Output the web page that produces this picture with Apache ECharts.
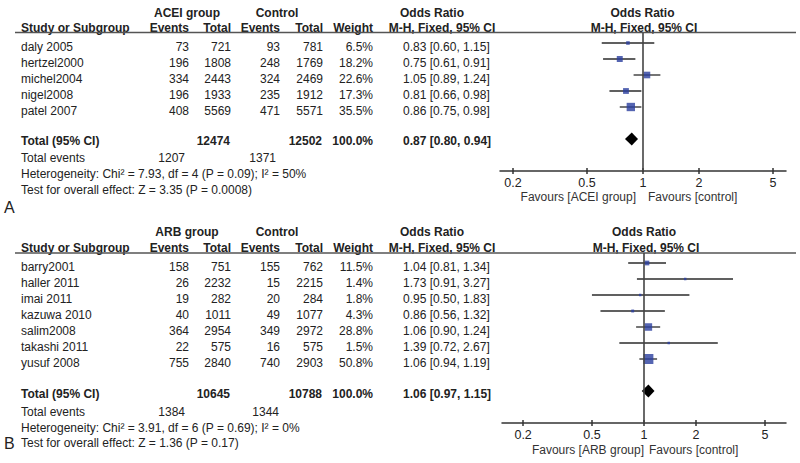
<!DOCTYPE html>
<html><head><meta charset="utf-8">
<script src="https://cdn.jsdelivr.net/npm/echarts@6/dist/echarts.min.js"></script>
<style>html,body{margin:0;padding:0;background:#fff}#c{width:800px;height:463px}</style>
</head><body><div id="c"></div>
<script>
// ---------- Panel A: ACEI group vs control ----------
const A_STUDIES    = ['daly 2005', 'hertzel2000', 'michel2004', 'nigel2008', 'patel 2007'];
const A_EXP_EVENTS = [73, 196, 334, 196, 408];
const A_EXP_TOTAL  = [721, 1808, 2443, 1933, 5569];
const A_CTL_EVENTS = [93, 248, 324, 235, 471];
const A_CTL_TOTAL  = [781, 1769, 2469, 1912, 5571];
const A_WEIGHT     = [6.5, 18.2, 22.6, 17.3, 35.5];
const A_OR         = [0.83, 0.75, 1.05, 0.81, 0.86];
const A_LO         = [0.60, 0.61, 0.89, 0.66, 0.75];
const A_HI         = [1.15, 0.91, 1.24, 0.98, 0.98];
const A_POOLED     = [0.87, 0.80, 0.94];          // OR, lower, upper
const A_TOTALS     = [12474, 12502];
const A_TOT_EVENTS = [1207, 1371];
const A_HET        = 'Heterogeneity: Chi\u00B2 = 7.93, df = 4 (P = 0.09); I\u00B2 = 50%';
const A_TEST       = 'Test for overall effect: Z = 3.35 (P = 0.0008)';

// ---------- Panel B: ARB group vs control ----------
const B_STUDIES    = ['barry2001', 'haller 2011', 'imai 2011', 'kazuwa 2010', 'salim2008', 'takashi 2011', 'yusuf 2008'];
const B_EXP_EVENTS = [158, 26, 19, 40, 364, 22, 755];
const B_EXP_TOTAL  = [751, 2232, 282, 1011, 2954, 575, 2840];
const B_CTL_EVENTS = [155, 15, 20, 49, 349, 16, 740];
const B_CTL_TOTAL  = [762, 2215, 284, 1077, 2972, 575, 2903];
const B_WEIGHT     = [11.5, 1.4, 1.8, 4.3, 28.8, 1.5, 50.8];
const B_OR         = [1.04, 1.73, 0.95, 0.86, 1.06, 1.39, 1.06];
const B_LO         = [0.81, 0.91, 0.50, 0.56, 0.90, 0.72, 0.94];
const B_HI         = [1.34, 3.27, 1.83, 1.32, 1.24, 2.67, 1.19];
const B_POOLED     = [1.06, 0.97, 1.15];
const B_TOTALS     = [10645, 10788];
const B_TOT_EVENTS = [1384, 1344];
const B_HET        = 'Heterogeneity: Chi\u00B2 = 3.91, df = 6 (P = 0.69); I\u00B2 = 0%';
const B_TEST       = 'Test for overall effect: Z = 1.36 (P = 0.17)';

const TICKS = [0.2, 0.5, 1, 2, 5];

// ---------- layout / style ----------
const FONT = '"Liberation Sans", Arial, Helvetica, sans-serif';
const FS = 12;
const TXT = '#222';
const COL = { study: 21, ee: 189, et: 231, ce: 280, ct: 323, w: 373, orL: 403 };

function txt(x, y, text, align, bold, size, color) {
  align = align || 'left';
  return {
    type: 'text', x: x, y: y, silent: true,
    style: {
      text: String(text), fill: color || TXT,
      font: (bold ? 'bold ' : '') + (size || FS) + 'px ' + FONT,
      align: align, verticalAlign: 'middle', textAlign: align, textVerticalAlign: 'middle'
    }
  };
}
const fmtCI = (o, l, h) => o.toFixed(2) + ' [' + l.toFixed(2) + ', ' + h.toFixed(2) + ']';

const PANELS = [
  { label: 'A', group: 'ACEI group', S: A_STUDIES, EE: A_EXP_EVENTS, ET: A_EXP_TOTAL, CE: A_CTL_EVENTS, CT: A_CTL_TOTAL,
    W: A_WEIGHT, OR: A_OR, LO: A_LO, HI: A_HI, P: A_POOLED, TOT: A_TOTALS, TE: A_TOT_EVENTS, HET: A_HET, TEST: A_TEST,
    L: { hdr1: 13, hdr2: 28, line: 32.5, row0: 47, rowStep: 16, total: 141, events: 158, het: 174, test: 190, lab: 207, labX: 4,
         grid: { left: 500, width: 286, top: 33, height: 138 }, xMin: 0.1703, xMax: 5.872, yMin: -0.625, yMax: 8,
         orHdr: 432, mhHdr: 442, rHdr: 642.5, rMh: 644, fav: 197, favL: 636, favR: 648, teE: 185, teC: 276 } },
  { label: 'B', group: 'ARB group', S: B_STUDIES, EE: B_EXP_EVENTS, ET: B_EXP_TOTAL, CE: B_CTL_EVENTS, CT: B_CTL_TOTAL,
    W: B_WEIGHT, OR: B_OR, LO: B_LO, HI: B_HI, P: B_POOLED, TOT: B_TOTALS, TE: B_TOT_EVENTS, HET: B_HET, TEST: B_TEST,
    L: { hdr1: 232, hdr2: 248, line: 253, row0: 267, rowStep: 16, total: 394, events: 412, het: 428, test: 443, lab: 443, labX: 4,
         grid: { left: 502, width: 284, top: 253, height: 170 }, xMin: 0.1510, xMax: 6.62, yMin: -0.625, yMax: 10,
         orHdr: 432, mhHdr: 442, rHdr: 644, rMh: 646, fav: 450, favL: 644, favR: 649, teE: 185, teC: 279 } }
];

const grids = [], xAxes = [], yAxes = [], series = [], graphics = [];
const TICK_LOG = TICKS.map(v => Math.log10(v));

PANELS.forEach((p, gi) => {
  const L = p.L;
  grids.push(Object.assign({ containLabel: false }, L.grid));
  const axBase = {
    gridIndex: gi, type: 'value', position: 'bottom',
    min: Math.log10(L.xMin), max: Math.log10(L.xMax), splitLine: { show: false }
  };
  xAxes.push(Object.assign({}, axBase, {
    axisLine: { show: true, onZero: false, lineStyle: { color: '#333', width: 1.5 } },
    axisTick: { show: true, customValues: TICK_LOG, length: 3, lineStyle: { color: '#333', width: 1.5 } },
    axisLabel: { show: true, customValues: TICK_LOG, margin: 5, color: TXT, fontSize: 12.5, fontFamily: FONT,
                 formatter: v => String(+Math.pow(10, v).toPrecision(2)) }
  }));
  xAxes.push(Object.assign({}, axBase, {
    axisLine: { show: false, onZero: false },
    axisTick: { show: true, inside: true, customValues: TICK_LOG, length: 3, lineStyle: { color: '#333', width: 1.5 } },
    axisLabel: { show: false }
  }));
  yAxes.push({ gridIndex: gi, type: 'value', inverse: true, min: L.yMin, max: L.yMax, show: false });

  const ciData = p.OR.map((_, i) => [Math.log10(p.LO[i]), Math.log10(p.HI[i]), i]);
  const sqData = p.OR.map((v, i) => [Math.log10(v), i, p.W[i]]);
  const poolRow = p.OR.length + 1;
  const dData = [[Math.log10(p.P[0]), Math.log10(p.P[1]), Math.log10(p.P[2]), poolRow]];

  series.push({
    type: 'custom', xAxisIndex: gi * 2, yAxisIndex: gi, data: ciData, z: 2, silent: true,
    encode: { x: [0, 1], y: 2 },
    renderItem: (params, api) => {
      const a = api.coord([api.value(0), api.value(2)]);
      const b = api.coord([api.value(1), api.value(2)]);
      return { type: 'line', shape: { x1: a[0], y1: a[1], x2: b[0], y2: b[1] },
               style: { stroke: '#2b2b2b', lineWidth: 1.3 } };
    },
    markLine: { silent: true, symbol: 'none', label: { show: false }, animation: false,
                lineStyle: { color: '#444', width: 1.6, type: 'solid' }, data: [{ xAxis: 0 }] }
  });
  series.push({
    type: 'scatter', xAxisIndex: gi * 2, yAxisIndex: gi, data: sqData, z: 3, silent: true,
    symbol: 'rect', symbolSize: v => Math.max(2.5, 1.4 * Math.sqrt(v[2])),
    itemStyle: { color: '#2a3f9f' }
  });
  series.push({
    type: 'custom', xAxisIndex: gi * 2, yAxisIndex: gi, data: dData, z: 4, silent: true,
    encode: { x: [0, 1, 2], y: 3 },
    renderItem: (params, api) => {
      const c = api.coord([api.value(0), api.value(3)]);
      const l = api.coord([api.value(1), api.value(3)]);
      const r = api.coord([api.value(2), api.value(3)]);
      return { type: 'polygon',
               shape: { points: [[l[0], c[1]], [c[0], c[1] - 6.5], [r[0], c[1]], [c[0], c[1] + 6.5]] },
               style: { fill: '#000' } };
    }
  });

  // ---- table text ----
  graphics.push(txt(187, L.hdr1, p.group, 'center', true));
  graphics.push(txt(277, L.hdr1, 'Control', 'center', true));
  graphics.push(txt(L.orHdr, L.hdr1, 'Odds Ratio', 'center', true));
  graphics.push(txt(L.rHdr, L.hdr1, 'Odds Ratio', 'center', true));
  graphics.push(txt(COL.study, L.hdr2, 'Study or Subgroup', 'left', true));
  graphics.push(txt(COL.ee, L.hdr2, 'Events', 'right', true));
  graphics.push(txt(COL.et, L.hdr2, 'Total', 'right', true));
  graphics.push(txt(COL.ce, L.hdr2, 'Events', 'right', true));
  graphics.push(txt(COL.ct, L.hdr2, 'Total', 'right', true));
  graphics.push(txt(COL.w, L.hdr2, 'Weight', 'right', true));
  graphics.push(txt(L.mhHdr, L.hdr2, 'M-H, Fixed, 95% CI', 'center', true));
  graphics.push(txt(L.rMh, L.hdr2, 'M-H, Fixed, 95% CI', 'center', true));
  graphics.push({ type: 'line', silent: true, shape: { x1: 15, y1: L.line, x2: 796, y2: L.line },
                  style: { stroke: '#555', lineWidth: 1.5 } });

  p.S.forEach((s, i) => {
    const y = L.row0 + i * L.rowStep;
    graphics.push(txt(COL.study, y, s, 'left'));
    graphics.push(txt(COL.ee, y, p.EE[i], 'right'));
    graphics.push(txt(COL.et, y, p.ET[i], 'right'));
    graphics.push(txt(COL.ce, y, p.CE[i], 'right'));
    graphics.push(txt(COL.ct, y, p.CT[i], 'right'));
    graphics.push(txt(COL.w, y, p.W[i].toFixed(1) + '%', 'right'));
    graphics.push(txt(COL.orL, y, fmtCI(p.OR[i], p.LO[i], p.HI[i]), 'left'));
  });
  const wSum = p.W.reduce((a, b) => a + b, 0);
  graphics.push(txt(COL.study, L.total, 'Total (95% CI)', 'left', true));
  graphics.push(txt(COL.et - 1, L.total, p.TOT[0], 'right', true));
  graphics.push(txt(COL.ct - 1, L.total, p.TOT[1], 'right', true));
  graphics.push(txt(COL.w, L.total, Math.round(wSum).toFixed(1) + '%', 'right', true));
  graphics.push(txt(COL.orL, L.total, fmtCI(p.P[0], p.P[1], p.P[2]), 'left', true));
  graphics.push(txt(COL.study, L.events, 'Total events', 'left'));
  graphics.push(txt(L.teE, L.events, p.TE[0], 'right'));
  graphics.push(txt(L.teC, L.events, p.TE[1], 'right'));
  graphics.push(txt(COL.study, L.het, p.HET, 'left'));
  graphics.push(txt(COL.study, L.test, p.TEST, 'left'));
  graphics.push(txt(L.labX, L.lab, p.label, 'left', false, 16));
  graphics.push(txt(L.favL, L.fav, 'Favours [' + p.group + ']', 'right', false, FS, '#333'));
  graphics.push(txt(L.favR, L.fav, 'Favours [control]', 'left', false, FS, '#333'));
});

const chart = echarts.init(document.getElementById('c'), null, { renderer: 'svg' });
chart.setOption({
  animation: false,
  backgroundColor: '#fff',
  grid: grids, xAxis: xAxes, yAxis: yAxes, series: series,
  graphic: { elements: graphics }
});
</script>
</body></html>
